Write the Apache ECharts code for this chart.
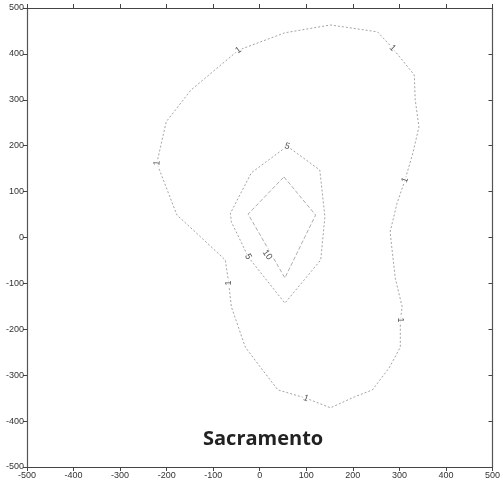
<!DOCTYPE html>
<html><head><meta charset="utf-8">
<script src="https://cdn.jsdelivr.net/npm/echarts@6/dist/echarts.min.js"></script>
<style>html,body{margin:0;padding:0;background:#fff}#c{width:503px;height:481px}</style>
</head><body><div id="c"></div>
<script>
// Contour level 1 (outer)
const c1X = [-221,-201,-148,-46,54,152,253,285,332,334,342,329,312,295,280,291,306,302,302,278,242,204,152,99,39,1,-31,-61,-67,-74,-131,-178,-221];
const c1Y = [162,252,321,408,446,463,448,413,354,300,241,184,125,75,12,-88,-151,-180,-239,-284,-332,-347,-371,-350,-332,-282,-239,-151,-97,-49,5,49,162];
// Contour level 5
const c5X = [59,129,140,131,54,-25,-39,-61,-63,-18,59];
const c5Y = [199,147,45,-49,-143,-42,-12,34,53,141,199];
// Contour level 10
const c10X = [52,120,54,-25,52];
const c10Y = [132,49,-88,51,132];
// Contour labels
const lblText = ['1','1','1','1','1','1','1','5','5','10'];
const lblX = [-221,-46,285,312,302,99,-67,59,-25,16];
const lblY = [162,408,413,125,-180,-350,-99,199,-42,-38];
const lblRot = [85,35,-45,70,-90,-20,90,-20,-60,-55];
const axisTicks = [-500,-400,-300,-200,-100,0,100,200,300,400,500];
const titleText = 'Sacramento';

const zip = (a,b)=>a.map((v,i)=>[v,b[i]]);
const lineStyle = {color:'#8c8c8c', width:0.8, type:[2,2]};
const mkLine = (name,xs,ys,ls)=>({name, type:'line', data:zip(xs,ys), showSymbol:false, symbol:'none', lineStyle:ls||lineStyle, silent:true, z:2});

const chart = echarts.init(document.getElementById('c'));
const axFont = {fontFamily:'Liberation Sans, Arial, sans-serif', fontSize:9, color:'#333'};
chart.setOption({
  animation:false,
  grid:{left:27,right:6,top:8,bottom:14},
  xAxis:[
    {type:'value',min:-500,max:500,interval:100,position:'bottom',
     axisLine:{onZero:false,lineStyle:{color:'#444',width:1}},
     axisTick:{length:4,lineStyle:{color:'#444'}},
     axisLabel:Object.assign({margin:4,showMinLabel:true,showMaxLabel:true},axFont),
     splitLine:{show:false}},
    {type:'value',min:-500,max:500,interval:100,position:'top',
     axisLine:{onZero:false,lineStyle:{color:'#444',width:1}},
     axisTick:{length:4,lineStyle:{color:'#444'}},
     axisLabel:{show:false},splitLine:{show:false}}
  ],
  yAxis:[
    {type:'value',min:-500,max:500,interval:100,position:'left',
     axisLine:{onZero:false,lineStyle:{color:'#555',width:1.2}},
     axisTick:{length:4,lineStyle:{color:'#444'}},
     axisLabel:Object.assign({margin:3},axFont),
     splitLine:{show:false}},
    {type:'value',min:-500,max:500,interval:100,position:'right',
     axisLine:{onZero:false,lineStyle:{color:'#555',width:1.2}},
     axisTick:{inside:true,length:4,lineStyle:{color:'#444'}},
     axisLabel:{show:false},splitLine:{show:false}}
  ],
  series:[
    mkLine('1',c1X,c1Y),
    mkLine('5',c5X,c5Y),
    mkLine('10',c10X,c10Y,{color:'#999',width:0.8,type:[4,2]}),
    {type:'scatter', symbolSize:0, z:5, silent:true,
     data: lblX.map((x,i)=>({value:[x,lblY[i]], name:lblText[i],
        label:{rotate:lblRot[i]}})),
     label:{show:true,position:'inside',formatter:p=>p.name,
        fontFamily:'Liberation Sans, Arial, sans-serif',fontSize:9,color:'#222',
        backgroundColor:'#fff',padding:[0,1]}}
  ],
  graphic:[{type:'text', left:203, top:429,
    style:{text:titleText, font:'bold 20px "Open Sans", sans-serif', fill:'#222'}}]
});
</script></body></html>
